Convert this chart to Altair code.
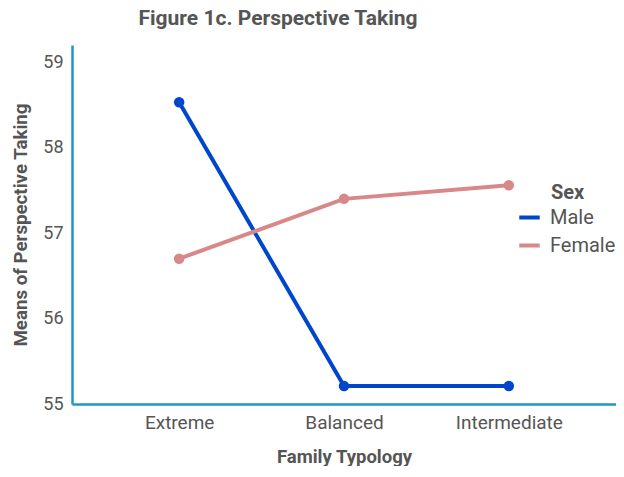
import altair as alt
import pandas as pd

categories = ["Extreme", "Balanced", "Intermediate"]
male = [58.53, 55.21, 55.21]
female = [56.70, 57.40, 57.56]
series = ["Male", "Female"]
legend_title = "Sex"

rows = []
for s, vals in zip(series, [male, female]):
    for c, v in zip(categories, vals):
        rows.append({"Family Typology": c, "Mean": v, "Sex": s})
df = pd.DataFrame(rows)

FONT = "Roboto"
GRAY = "#555555"
AXIS = "#1E96C8"

lines = alt.Chart(df).mark_line(
    strokeWidth=4,
    point=alt.OverlayMarkDef(filled=True, size=110, opacity=1),
).encode(
    x=alt.X("Family Typology:N", sort=categories,
            scale=alt.Scale(type="point", padding=0.65),
            axis=alt.Axis(labelAngle=0, ticks=False, labelPadding=9, titlePadding=15,
                          domainColor=AXIS, domainWidth=2.5, labelFontSize=19,
                          labelColor=GRAY, titleColor=GRAY, titleFontSize=18.5,
                          titleFontWeight="bold", labelFont=FONT, titleFont=FONT)),
    y=alt.Y("Mean:Q", title="Means of Perspective Taking",
            scale=alt.Scale(domain=[55, 59.2], nice=False, zero=False),
            axis=alt.Axis(values=[55, 56, 57, 58, 59], ticks=False, grid=False,
                          labelPadding=9, titlePadding=12, domainColor=AXIS,
                          domainWidth=2.5, labelFontSize=18, labelColor=GRAY,
                          titleColor=GRAY, titleFontSize=18.7, titleFontWeight="bold",
                          labelFont=FONT, titleFont=FONT)),
    color=alt.Color("Sex:N", sort=series,
                    scale=alt.Scale(domain=series, range=["#0046CC", "#D88888"]),
                    legend=alt.Legend(orient="none", legendX=445, legendY=160,
                                      title=None,
                                      symbolType="stroke", symbolStrokeWidth=4,
                                      symbolSize=420, labelOffset=8,
                                      labelFontSize=20, labelColor=GRAY,
                                      labelFont=FONT, rowPadding=5)),
)

legend_head = alt.Chart(pd.DataFrame({"t": [legend_title]})).mark_text(
    align="left", baseline="middle", font=FONT, fontSize=20,
    fontWeight="bold", color=GRAY,
).encode(text="t:N", x=alt.value(479), y=alt.value(148))

chart = alt.layer(lines, legend_head).properties(
    width=544,
    height=359,
    title=alt.TitleParams("Figure 1c. Perspective Taking", fontSize=21,
                          font=FONT, fontWeight="bold", color=GRAY, offset=16,
                          anchor="middle", dx=-66),
    autosize=alt.AutoSizeParams(type="none"),
    padding={"left": 64, "top": 37, "right": 0, "bottom": 62},
).configure_view(stroke=None).configure_axis(grid=False)

chart.save("out.html", embed_options={"renderer": "svg", "actions": False})
